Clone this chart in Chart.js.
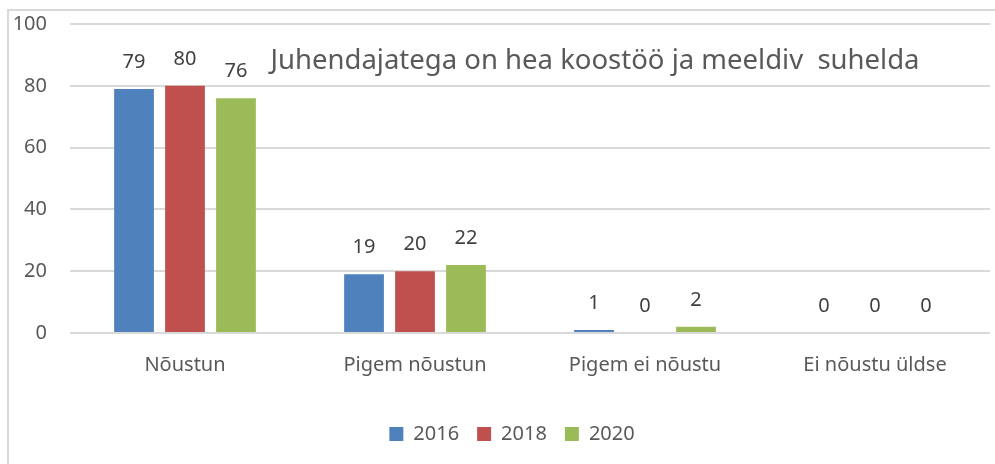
<!DOCTYPE html>
<html>
<head>
<meta charset="utf-8">
<script src="https://cdn.jsdelivr.net/npm/chart.js@4/dist/chart.umd.min.js"></script>
<style>
  html, body { margin: 0; padding: 0; background: #fff; overflow: hidden; }
  #wrap { position: relative; width: 995px; height: 464px; }
  #frame { position: absolute; left: 7px; top: 9px; width: 1100px; height: 600px; border: 2px solid #d9d9d9; box-sizing: border-box; }
  canvas { position: absolute; left: 0; top: 0; }
</style>
</head>
<body>
<div id="wrap">
  <div id="frame"></div>
  <canvas id="c" width="995" height="464"></canvas>
</div>
<script>
const categories = ["Nõustun", "Pigem nõustun", "Pigem ei nõustu", "Ei nõustu üldse"];
const years = ["2016", "2018", "2020"];
const values2016 = [79, 19, 1, 0];
const values2018 = [80, 20, 0, 0];
const values2020 = [76, 22, 2, 0];
const yTicks = [0, 20, 40, 60, 80, 100];
const chartTitle = "Juhendajatega on hea koostöö ja meeldiv  suhelda";

const FONT = "'Noto Sans', 'Open Sans', sans-serif";
const TXT = "#595959";
const colors = ["#4F81BD", "#C0504D", "#9BBB59"];

const labelPlugin = {
  id: "valueLabels",
  afterDatasetsDraw(chart) {
    const ctx = chart.ctx;
    ctx.save();
    ctx.font = "20px " + FONT;
    ctx.fillStyle = "#404040";
    ctx.textAlign = "center";
    ctx.textBaseline = "middle";
    chart.data.datasets.forEach((ds, i) => {
      const meta = chart.getDatasetMeta(i);
      meta.data.forEach((bar, j) => {
        ctx.fillText(String(ds.data[j]), bar.x, bar.y - 27);
      });
    });
    ctx.restore();
  }
};

const titlePlugin = {
  id: "innerTitle",
  afterDraw(chart) {
    const ctx = chart.ctx;
    ctx.save();
    ctx.font = "27.5px " + FONT;
    ctx.fillStyle = TXT;
    ctx.textAlign = "center";
    ctx.textBaseline = "middle";
    ctx.fillText(chartTitle, 595, 61);
    ctx.restore();
  }
};

// the original chart is wider than the visible crop, so its legend sits right of centre
const legendShift = {
  id: "legendShift",
  afterLayout(chart) {
    if (chart.legend) { chart.legend.left += 17; chart.legend.right += 17; }
  }
};

new Chart(document.getElementById("c"), {
  type: "bar",
  data: {
    labels: categories,
    datasets: [
      { label: years[0], data: values2016, backgroundColor: colors[0] },
      { label: years[1], data: values2018, backgroundColor: colors[1] },
      { label: years[2], data: values2020, backgroundColor: colors[2] }
    ]
  },
  options: {
    responsive: false,
    animation: false,
    events: [],
    layout: { padding: { left: 0, right: 5, top: 24, bottom: 10 } },
    datasets: { bar: { categoryPercentage: 0.665, barPercentage: 0.78 } },
    scales: {
      x: {
        grid: { display: false, drawTicks: false },
        border: { display: false },
        ticks: { color: TXT, font: { family: FONT, size: 20 }, padding: 20 },
        afterFit(s) { s.height = 73; s.paddingLeft = 0; s.paddingRight = 0; }
      },
      y: {
        min: 0, max: 100,
        afterBuildTicks(s) { s.ticks = yTicks.map(v => ({ value: v })); },
        grid: { color: "#d9d9d9", lineWidth: 2, drawTicks: false },
        border: { display: false },
        ticks: { color: TXT, font: { family: FONT, size: 20 }, padding: 23 },
        afterFit(s) { s.width = 70; s.paddingTop = 0; s.paddingBottom = 0; }
      }
    },
    plugins: {
      legend: {
        position: "bottom",
        labels: { color: TXT, font: { family: FONT, size: 20 }, boxWidth: 14, boxHeight: 14, padding: 18 }
      },
      tooltip: { enabled: false },
      title: { display: false }
    }
  },
  plugins: [labelPlugin, titlePlugin, legendShift]
});
</script>
</body>
</html>
